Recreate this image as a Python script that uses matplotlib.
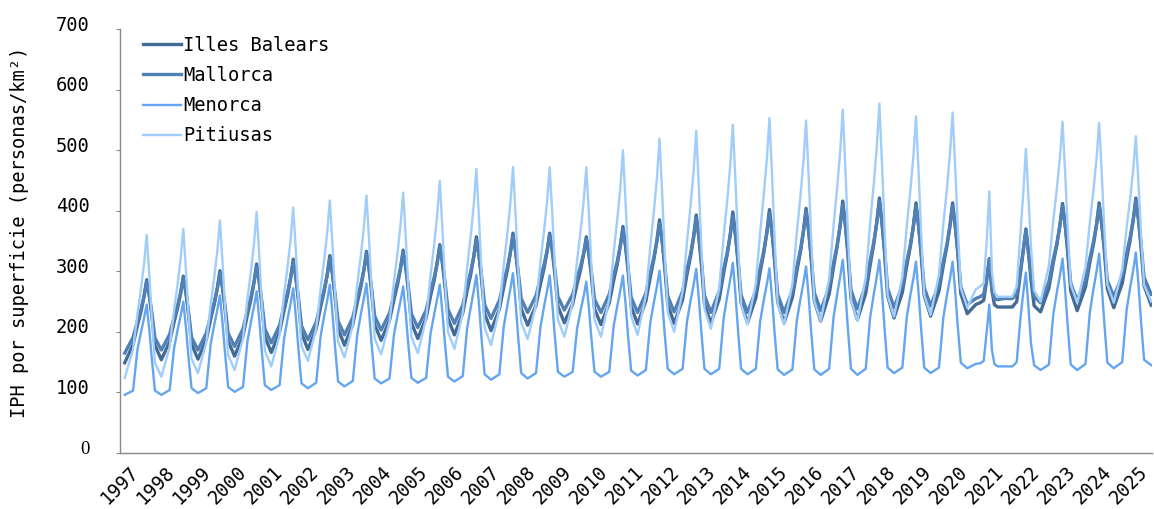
import matplotlib
matplotlib.use('Agg')
import matplotlib.pyplot as plt
import matplotlib.dates as mdates
import matplotlib.transforms as mtrans
import pandas as pd

# sample dates inside each year (trough, easter, spring, summer, peak, autumn)
years = list(range(1997, 2025))
anchors = ['01-08', '04-01', '05-15', '06-20', '07-20', '08-15', '09-10', '10-05', '11-05']
end_date = '2025-01-15'

illes_balears = [
    [149, 179, 211, 234, 259, 286, 260, 227, 178],
    [154, 184, 216, 240, 264, 292, 265, 230, 180],
    [155, 187, 221, 246, 272, 301, 273, 238, 185],
    [160, 193, 228, 254, 282, 312, 283, 246, 192],
    [166, 200, 235, 261, 289, 320, 290, 253, 198],
    [171, 205, 241, 267, 295, 326, 296, 259, 205],
    [178, 212, 248, 274, 302, 333, 304, 267, 212],
    [186, 219, 253, 278, 305, 335, 306, 269, 215],
    [189, 223, 259, 285, 313, 344, 314, 277, 222],
    [195, 231, 268, 295, 325, 357, 326, 287, 230],
    [202, 237, 274, 302, 331, 363, 333, 295, 238],
    [211, 244, 279, 305, 333, 363, 333, 296, 242],
    [215, 246, 279, 303, 329, 357, 328, 292, 238],
    [212, 248, 285, 312, 342, 374, 342, 302, 242],
    [213, 251, 290, 320, 351, 385, 351, 308, 245],
    [214, 253, 295, 325, 357, 393, 357, 312, 246],
    [214, 254, 297, 328, 361, 398, 361, 316, 248],
    [215, 256, 299, 331, 365, 402, 365, 318, 249],
    [215, 257, 300, 332, 366, 404, 367, 320, 251],
    [218, 262, 307, 341, 376, 416, 377, 328, 255],
    [220, 264, 310, 345, 381, 421, 381, 332, 259],
    [223, 265, 309, 341, 375, 413, 376, 329, 260],
    [226, 267, 310, 342, 376, 413, 376, 331, 263],
    [230, 245, 248, 252, 285, 321, 268, 245, 241],
    [241, 241, 250, 295, 335, 370, 330, 285, 243],
    [233, 272, 314, 344, 376, 412, 377, 332, 267],
    [235, 274, 315, 345, 377, 413, 378, 335, 271],
    [240, 280, 321, 352, 385, 421, 386, 341, 276],
]
illes_balears_end = 244

mallorca = [
    [165, 191, 218, 238, 259, 283, 260, 232, 190],
    [170, 196, 224, 244, 265, 289, 265, 235, 191],
    [170, 198, 227, 249, 272, 297, 273, 243, 198],
    [176, 205, 235, 258, 282, 308, 283, 251, 205],
    [182, 211, 242, 265, 289, 316, 290, 258, 210],
    [187, 216, 247, 270, 294, 321, 296, 264, 218],
    [195, 224, 255, 278, 302, 329, 304, 272, 226],
    [203, 231, 261, 283, 306, 332, 307, 276, 230],
    [207, 236, 267, 290, 314, 341, 316, 284, 237],
    [214, 244, 276, 300, 324, 352, 326, 294, 245],
    [222, 252, 283, 306, 331, 358, 333, 301, 255],
    [232, 260, 290, 311, 334, 360, 335, 304, 258],
    [236, 262, 289, 309, 330, 353, 329, 299, 254],
    [232, 262, 294, 317, 342, 369, 342, 307, 257],
    [232, 264, 298, 323, 350, 379, 350, 313, 259],
    [233, 267, 303, 329, 357, 388, 357, 318, 260],
    [232, 267, 304, 331, 359, 391, 359, 319, 261],
    [232, 268, 306, 334, 363, 396, 363, 322, 262],
    [232, 269, 307, 336, 366, 399, 366, 325, 265],
    [235, 274, 314, 344, 375, 410, 376, 333, 269],
    [238, 277, 318, 348, 380, 415, 380, 336, 272],
    [240, 277, 316, 344, 374, 408, 375, 334, 273],
    [243, 279, 317, 345, 375, 408, 375, 335, 274],
    [245, 255, 258, 262, 290, 319, 270, 255, 253],
    [255, 255, 262, 300, 335, 366, 330, 295, 258],
    [248, 283, 320, 347, 376, 408, 377, 338, 280],
    [252, 286, 322, 349, 377, 408, 378, 341, 285],
    [258, 293, 330, 357, 385, 417, 386, 347, 290],
]
mallorca_end = 262

menorca = [
    [96, 103, 171, 200, 223, 245, 203, 156, 103],
    [96, 104, 173, 204, 227, 250, 208, 159, 107],
    [99, 107, 180, 212, 236, 260, 215, 165, 109],
    [101, 109, 184, 217, 242, 267, 221, 169, 112],
    [104, 112, 188, 222, 247, 272, 226, 173, 115],
    [107, 116, 193, 227, 252, 278, 231, 177, 118],
    [110, 119, 195, 229, 255, 280, 234, 181, 123],
    [115, 123, 195, 227, 251, 275, 230, 180, 124],
    [116, 124, 197, 229, 254, 278, 233, 182, 126],
    [118, 127, 206, 241, 268, 294, 246, 190, 130],
    [121, 130, 209, 244, 271, 297, 248, 193, 132],
    [123, 132, 208, 242, 268, 293, 246, 193, 134],
    [126, 134, 205, 236, 259, 283, 239, 189, 134],
    [126, 134, 210, 243, 268, 293, 247, 194, 136],
    [128, 137, 215, 249, 275, 301, 253, 198, 139],
    [130, 139, 217, 252, 278, 304, 255, 200, 139],
    [130, 139, 222, 259, 286, 314, 262, 204, 139],
    [130, 139, 218, 253, 279, 305, 256, 199, 138],
    [129, 138, 219, 254, 281, 308, 258, 201, 138],
    [129, 139, 224, 262, 291, 319, 266, 205, 139],
    [129, 139, 224, 262, 291, 319, 267, 207, 141],
    [132, 141, 224, 261, 288, 316, 264, 206, 141],
    [132, 141, 224, 261, 288, 316, 267, 210, 149],
    [140, 147, 148, 152, 200, 245, 170, 147, 143],
    [143, 143, 150, 220, 265, 298, 240, 180, 145],
    [137, 146, 229, 266, 293, 321, 269, 211, 146],
    [137, 147, 233, 271, 300, 329, 276, 216, 149],
    [140, 150, 236, 274, 302, 331, 279, 219, 154],
]
menorca_end = 145

pitiusas = [
    [124, 171, 230, 273, 313, 360, 294, 224, 149],
    [126, 175, 236, 280, 321, 370, 303, 232, 156],
    [132, 182, 245, 291, 334, 384, 315, 241, 162],
    [137, 189, 254, 301, 346, 398, 327, 250, 169],
    [143, 195, 261, 308, 353, 405, 334, 258, 177],
    [152, 205, 271, 319, 364, 417, 344, 267, 184],
    [158, 211, 278, 326, 372, 425, 352, 273, 189],
    [163, 216, 283, 331, 377, 430, 356, 276, 192],
    [165, 222, 293, 344, 392, 449, 371, 288, 200],
    [172, 231, 306, 359, 410, 469, 388, 300, 207],
    [178, 237, 310, 363, 413, 472, 392, 307, 216],
    [188, 245, 316, 367, 415, 472, 394, 310, 220],
    [192, 248, 318, 368, 416, 472, 394, 310, 220],
    [192, 254, 331, 386, 438, 500, 415, 323, 226],
    [195, 260, 341, 399, 454, 519, 430, 334, 232],
    [200, 266, 349, 409, 466, 532, 440, 342, 238],
    [205, 272, 357, 417, 475, 542, 450, 351, 245],
    [212, 280, 365, 427, 485, 553, 458, 355, 246],
    [212, 279, 364, 424, 482, 549, 456, 357, 251],
    [218, 288, 375, 438, 497, 567, 469, 365, 253],
    [218, 290, 380, 444, 505, 577, 478, 373, 260],
    [225, 291, 374, 434, 490, 556, 464, 366, 261],
    [228, 295, 378, 438, 495, 562, 472, 375, 272],
    [240, 270, 275, 280, 350, 432, 300, 265, 258],
    [258, 258, 275, 360, 430, 502, 420, 340, 268],
    [250, 309, 384, 437, 488, 547, 463, 374, 278],
    [248, 307, 382, 435, 486, 545, 462, 373, 278],
    [248, 303, 372, 421, 468, 523, 447, 365, 277],
]
pitiusas_end = 250

year_labels = [str(y) for y in range(1997, 2026)]

mono = 'DejaVu Sans Mono'
fs = 13.5

dates = [pd.Timestamp(f'{y}-{a}') for y in years for a in anchors] + [pd.Timestamp(end_date)]

def flat(rows, last):
    return [v for row in rows for v in row] + [last]

fig = plt.figure(figsize=(11.54, 5.09), dpi=100)
ax = fig.add_axes([0.104, 0.110, 0.894, 0.833])

ax.plot(dates, flat(illes_balears, illes_balears_end), color='#446a96', lw=2.4, label='Illes Balears')
ax.plot(dates, flat(mallorca, mallorca_end), color='#5080b4', lw=2.4, label='Mallorca')
ax.plot(dates, flat(menorca, menorca_end), color='#64a5f0', lw=1.7, label='Menorca')
ax.plot(dates, flat(pitiusas, pitiusas_end), color='#a0cdfa', lw=1.7, label='Pitiusas')

ax.set_xlim(pd.Timestamp('1997-01-01'), pd.Timestamp('2025-01-20'))
ax.set_ylim(0, 700)

# year labels spread evenly under the axis
lab_pos = pd.date_range('1996-11-22', '2024-06-05', periods=len(year_labels))
ax.set_xticks(mdates.date2num(lab_pos))
ax.set_xticklabels(year_labels, rotation=45, ha='center', family=mono, fontsize=fs)
ax.tick_params(axis='x', length=0, pad=7)

ax.set_yticks(range(0, 701, 100))
ax.set_yticklabels([str(v) for v in range(0, 701, 100)], family=mono, fontsize=fs)
ax.tick_params(axis='y', length=3, color='#888888', pad=19)
ax.get_yticklabels()[0].set_family('Liberation Serif')
shift = mtrans.ScaledTranslation(0, 0.06, fig.dpi_scale_trans)
for lbl in ax.get_yticklabels():
    lbl.set_transform(lbl.get_transform() + shift)

for s in ['top', 'right']:
    ax.spines[s].set_visible(False)
for s in ['left', 'bottom']:
    ax.spines[s].set_color('#888888')
    ax.spines[s].set_linewidth(1)

ax.set_ylabel('IPH por superficie (personas/km²)', family=mono, fontsize=fs)
ax.yaxis.set_label_coords(-0.088, 0.52)

ax.legend(loc='upper left', bbox_to_anchor=(0.006, 1.024), frameon=False,
          prop={'family': mono, 'size': fs}, handlelength=2.0,
          handletextpad=0.15, labelspacing=0.6)

fig.savefig('out.png', dpi=100)
